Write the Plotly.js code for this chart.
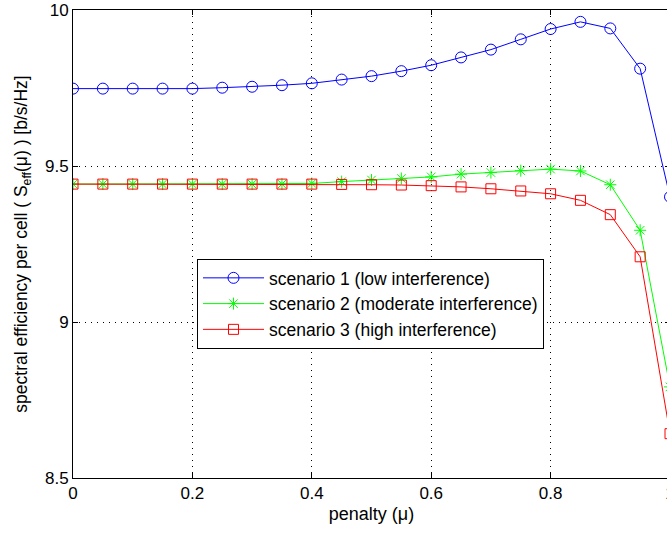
<!DOCTYPE html>
<html>
<head>
<meta charset="utf-8">
<script src="https://cdn.plot.ly/plotly-3.0.1.min.js"></script>
<style>
  html, body { margin: 0; padding: 0; overflow: hidden; background: #fff; width: 667px; height: 534px; }
  #chart { width: 680px; height: 534px; }
</style>
</head>
<body>
<div id="chart"></div>
<script>
// penalty values (x)
const penalty = [0, 0.05, 0.1, 0.15, 0.2, 0.25, 0.3, 0.35, 0.4, 0.45, 0.5,
                 0.55, 0.6, 0.65, 0.7, 0.75, 0.8, 0.85, 0.9, 0.95, 1.0];

// scenario 1 (low interference)
const scenario1 = [9.748, 9.748, 9.748, 9.748, 9.748, 9.751, 9.754, 9.759, 9.765, 9.777, 9.788,
                   9.804, 9.823, 9.848, 9.873, 9.906, 9.939, 9.962, 9.941, 9.812, 9.401];

// scenario 2 (moderate interference)
const scenario2 = [9.442, 9.442, 9.442, 9.442, 9.442, 9.442, 9.442, 9.442, 9.444, 9.450, 9.455,
                   9.460, 9.465, 9.474, 9.479, 9.485, 9.490, 9.484, 9.440, 9.294, 8.792];

// scenario 3 (high interference)
const scenario3 = [9.442, 9.442, 9.442, 9.442, 9.442, 9.442, 9.442, 9.442, 9.442, 9.441, 9.440,
                   9.439, 9.437, 9.433, 9.427, 9.420, 9.411, 9.390, 9.344, 9.209, 8.642];

const seriesNames = ['scenario 1 (low interference)',
                     'scenario 2 (moderate interference)',
                     'scenario 3 (high interference)'];

const xTicks = [0, 0.2, 0.4, 0.6, 0.8, 1];
const xTickText = ['0', '0.2', '0.4', '0.6', '0.8', '1'];
const yTicks = [8.5, 9, 9.5, 10];
const yTickText = ['8.5', '9', '9.5', '10'];

const FONT = 'Liberation Sans, Arial, Helvetica, sans-serif';

const traces = [
  { x: penalty, y: scenario1, name: seriesNames[0], type: 'scatter', mode: 'lines+markers',
    line: { color: '#0000ff', width: 1 },
    marker: { symbol: 'circle-open', size: 11, color: '#0000ff', line: { width: 1, color: '#0000ff' } } },
  { x: penalty, y: scenario2, name: seriesNames[1], type: 'scatter', mode: 'lines+markers',
    line: { color: '#00ff00', width: 1 },
    marker: { symbol: 'asterisk-open', size: 10, color: '#00ff00', line: { width: 1, color: '#00ff00' } } },
  { x: penalty, y: scenario3, name: seriesNames[2], type: 'scatter', mode: 'lines+markers',
    line: { color: '#ff0000', width: 1 },
    marker: { symbol: 'square-open', size: 10, color: '#ff0000', line: { width: 1, color: '#ff0000' } } }
];

const axisCommon = {
  showline: true, linecolor: '#000', linewidth: 1, mirror: 'ticks',
  ticks: 'inside', ticklen: 5, tickcolor: '#000', tickwidth: 1,
  showgrid: true, gridcolor: '#000', gridwidth: 1, griddash: '1px,5px',
  zeroline: false,
  tickfont: { family: FONT, size: 17, color: '#000' }
};

const layout = {
  width: 680, height: 534,
  margin: { l: 73, r: 10, t: 10, b: 56 },
  paper_bgcolor: '#fff', plot_bgcolor: '#fff',
  font: { family: FONT, size: 17, color: '#000' },
  showlegend: true,
  xaxis: Object.assign({}, axisCommon, {
    range: [0, 1], tickmode: 'array', tickvals: xTicks, ticktext: xTickText,
    title: { text: 'penalty (μ)', font: { family: FONT, size: 18 }, standoff: 4 }
  }),
  yaxis: Object.assign({}, axisCommon, {
    range: [8.5, 10], tickmode: 'array', tickvals: yTicks, ticktext: yTickText,
    title: { text: 'spectral efficiency per cell ( S<sub>eff</sub>(μ) ) [b/s/Hz]', font: { family: FONT, size: 17.5 }, standoff: 12 }
  }),
  legend: {
    x: 0.2077, y: 0.468, xanchor: 'left', yanchor: 'top',
    bgcolor: '#fff', bordercolor: '#000', borderwidth: 1,
    font: { family: FONT, size: 17.5, color: '#000' },
    tracegroupgap: 0, itemwidth: 61
  }
};

Plotly.newPlot('chart', traces, layout, { staticPlot: true, displayModeBar: false });
</script>
</body>
</html>
